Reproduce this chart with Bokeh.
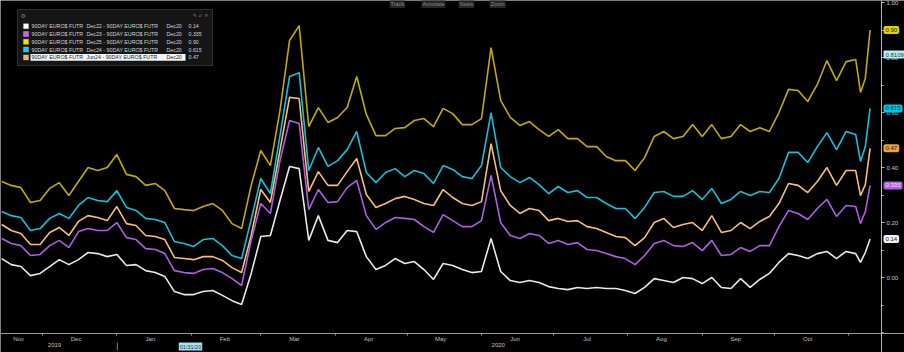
from datetime import datetime
import pandas as pd
from bokeh.plotting import figure
from bokeh.models import (Range1d, LinearAxis, FixedTicker, DatetimeTickFormatter,
                          PrintfTickFormatter, ColumnDataSource, Label, BoxAnnotation)
from bokeh.embed import file_html
from bokeh.resources import INLINE

# ---------------- data ----------------
dates = list(pd.date_range("2019-11-14", periods=90, freq="4D")) + \
        list(pd.to_datetime(["2020-11-06", "2020-11-08", "2020-11-10"]))

names = ["Dec22", "Dec23", "Dec25", "Dec24", "Jun24"]

dec22 = [0.069, 0.047, 0.040, 0.007, 0.015, 0.040, 0.065, 0.047, 0.065, 0.091,
         0.087, 0.076, 0.084, 0.044, 0.047, 0.025, 0.018, 0.004, -0.051, -0.062,
         -0.062, -0.051, -0.047, -0.065, -0.084, -0.098, 0.015, 0.149, 0.153, 0.280,
         0.404, 0.396, 0.135, 0.225, 0.135, 0.127, 0.171, 0.167, 0.076, 0.029,
         0.044, 0.069, 0.051, 0.058, 0.029, -0.007, 0.051, 0.044, 0.029, 0.018,
         0.022, 0.142, 0.022, -0.011, -0.018, -0.011, -0.018, -0.033, -0.040, -0.044,
         -0.036, -0.040, -0.036, -0.040, -0.040, -0.047, -0.058, -0.036, -0.004, -0.011,
         -0.018, 0.000, -0.004, -0.022, 0.000, -0.036, -0.040, -0.004, -0.036, -0.007,
         0.015, 0.055, 0.087, 0.080, 0.069, 0.087, 0.095, 0.069, 0.095, 0.087,
         0.055, 0.091, 0.140]

dec23 = [0.142, 0.124, 0.116, 0.080, 0.084, 0.116, 0.135, 0.109, 0.167, 0.178,
         0.171, 0.171, 0.200, 0.145, 0.138, 0.105, 0.102, 0.087, 0.025, 0.018,
         0.015, 0.029, 0.033, 0.018, -0.004, -0.029, 0.135, 0.269, 0.233, 0.425,
         0.571, 0.560, 0.247, 0.320, 0.273, 0.276, 0.327, 0.353, 0.225, 0.175,
         0.200, 0.218, 0.215, 0.211, 0.185, 0.164, 0.229, 0.207, 0.185, 0.185,
         0.207, 0.371, 0.200, 0.153, 0.142, 0.160, 0.153, 0.124, 0.135, 0.120,
         0.127, 0.102, 0.098, 0.087, 0.076, 0.069, 0.047, 0.080, 0.124, 0.135,
         0.116, 0.113, 0.127, 0.098, 0.135, 0.080, 0.084, 0.109, 0.095, 0.116,
         0.116, 0.185, 0.244, 0.233, 0.211, 0.251, 0.284, 0.222, 0.262, 0.258,
         0.196, 0.240, 0.335]

dec25 = [0.349, 0.335, 0.327, 0.273, 0.280, 0.324, 0.345, 0.298, 0.349, 0.400,
         0.389, 0.400, 0.447, 0.375, 0.367, 0.335, 0.342, 0.316, 0.251, 0.247,
         0.244, 0.258, 0.269, 0.244, 0.196, 0.178, 0.335, 0.462, 0.407, 0.607,
         0.862, 0.916, 0.549, 0.618, 0.564, 0.582, 0.618, 0.731, 0.593, 0.516,
         0.516, 0.542, 0.545, 0.571, 0.578, 0.549, 0.615, 0.596, 0.556, 0.556,
         0.578, 0.836, 0.644, 0.582, 0.553, 0.567, 0.538, 0.513, 0.538, 0.505,
         0.505, 0.476, 0.476, 0.440, 0.425, 0.425, 0.389, 0.436, 0.513, 0.531,
         0.505, 0.513, 0.556, 0.513, 0.556, 0.505, 0.513, 0.556, 0.531, 0.545,
         0.531, 0.600, 0.684, 0.680, 0.640, 0.702, 0.789, 0.716, 0.785, 0.793,
         0.673, 0.724, 0.900]

dec24 = [0.240, 0.225, 0.218, 0.171, 0.178, 0.215, 0.233, 0.215, 0.262, 0.291,
         0.280, 0.276, 0.316, 0.255, 0.244, 0.215, 0.211, 0.200, 0.131, 0.124,
         0.113, 0.138, 0.142, 0.116, 0.080, 0.069, 0.211, 0.360, 0.305, 0.516,
         0.731, 0.745, 0.389, 0.473, 0.404, 0.425, 0.465, 0.531, 0.382, 0.345,
         0.382, 0.396, 0.367, 0.389, 0.378, 0.342, 0.407, 0.393, 0.367, 0.360,
         0.407, 0.600, 0.400, 0.367, 0.345, 0.364, 0.338, 0.305, 0.331, 0.309,
         0.316, 0.291, 0.291, 0.269, 0.251, 0.251, 0.215, 0.255, 0.309, 0.313,
         0.295, 0.295, 0.316, 0.284, 0.324, 0.269, 0.284, 0.313, 0.298, 0.313,
         0.309, 0.360, 0.455, 0.455, 0.418, 0.476, 0.527, 0.465, 0.531, 0.520,
         0.422, 0.476, 0.615]

jun24 = [0.193, 0.171, 0.160, 0.120, 0.120, 0.164, 0.182, 0.153, 0.204, 0.225,
         0.218, 0.207, 0.258, 0.196, 0.189, 0.153, 0.149, 0.138, 0.073, 0.069,
         0.065, 0.076, 0.076, 0.062, 0.036, 0.018, 0.153, 0.320, 0.273, 0.462,
         0.655, 0.651, 0.313, 0.385, 0.335, 0.335, 0.385, 0.433, 0.302, 0.255,
         0.269, 0.287, 0.295, 0.284, 0.269, 0.262, 0.320, 0.291, 0.269, 0.262,
         0.276, 0.487, 0.316, 0.262, 0.233, 0.251, 0.244, 0.207, 0.215, 0.204,
         0.207, 0.185, 0.178, 0.164, 0.149, 0.145, 0.116, 0.145, 0.200, 0.215,
         0.182, 0.193, 0.200, 0.171, 0.225, 0.164, 0.171, 0.200, 0.178, 0.204,
         0.222, 0.269, 0.342, 0.335, 0.309, 0.349, 0.400, 0.335, 0.389, 0.389,
         0.298, 0.338, 0.470]

values = [dec22, dec23, dec25, dec24, jun24]

y_major = [0.0, 0.2, 0.4, 0.6, 0.8, 1.0]
y_minor = [-0.2, -0.1, 0.1, 0.3, 0.5, 0.7, 0.9]
month_label_dates = [datetime(2019, 11, 21)] + [datetime(2019, 12, 15)] + \
                    [datetime(2020, m, 15) for m in range(1, 11)]
month_start_dates = [datetime(2019, 12, 1)] + [datetime(2020, m, 1) for m in range(1, 12)]
year_label_dates = [datetime(2019, 12, 6), datetime(2020, 6, 8)]
year_sep_date = datetime(2020, 1, 1)
crosshair_value = "0.8109"
crosshair_date = "01/31/20"
toolbar_items = ["Track", "Annotate", "News", "Zoom"]

# ---------------- styles / geometry ----------------
line_colors = ["#e8e8e8", "#ad5fe2", "#c2ac00", "#10c2dc", "#f8bf72"]
swatch_colors = ["#ffffff", "#c45ef5", "#f0e400", "#00d2f0", "#f5b266"]
tag_bg = ["#f2f2f2", "#b05ee0", "#e6d000", "#00c6e4", "#f2a03c"]
tag_fg = ["#1a1a1a", "#f4e8ff", "#1a1a00", "#062a3a", "#2a1600"]
FONT = "Liberation Sans"
W, H = 904, 352
PLOT_W, PLOT_H = 881, 333            # area of the chart inside the canvas

x_start = datetime(2019, 11, 13, 12)
x_axis_end = datetime(2020, 11, 14, 18)
x_end = x_axis_end + (x_axis_end - x_start) * (W - PLOT_W) / PLOT_W
y_top = 1.0073
y_axis_bottom = -0.2035
y_per_px = (y_top - y_axis_bottom) / PLOT_H
y_min = y_axis_bottom - (H - PLOT_H) * y_per_px


def ms(d):
    return float(pd.Timestamp(d).value // 10**6)


def sy(cy):
    return H - cy


def fmt(v):
    s = f"{v:.3f}"
    return s[:-1] if s.endswith("0") else s


def screen_box(left, right, top, bottom, **kw):
    return BoxAnnotation(left=left, right=right, top=sy(top), bottom=sy(bottom),
                         left_units="screen", right_units="screen",
                         top_units="screen", bottom_units="screen", **kw)


p = figure(width=W, height=H, x_axis_type=None, y_axis_type=None,
           x_range=Range1d(x_start, x_end), y_range=Range1d(y_min, y_top),
           output_backend="svg", toolbar_location=None,
           background_fill_color="black", border_fill_color="black",
           outline_line_color=None, min_border=0)

src = ColumnDataSource(dict(date=dates, **{n: v for n, v in zip(names, values)}))
for i in [2, 3, 4, 1, 0]:
    p.line("date", names[i], source=src, line_color=line_colors[i], line_width=1.6)

# right value axis (fixed at the right edge of the chart area)
yax = LinearAxis(ticker=FixedTicker(ticks=y_major, minor_ticks=y_minor),
                 formatter=PrintfTickFormatter(format="%.2f"),
                 fixed_location=ms(x_axis_end))
yax.axis_line_color = "#b4b4b4"
yax.major_tick_line_color = "#b4b4b4"
yax.minor_tick_line_color = "#b4b4b4"
yax.major_tick_out = 3
yax.major_tick_in = 0
yax.minor_tick_out = 2
yax.minor_tick_in = 0
yax.major_label_standoff = 2
yax.major_label_text_font_size = "6px"
yax.major_label_text_color = "#c8c8c8"
yax.major_label_text_font = FONT
p.add_layout(yax, "right")

# month axis
fmt_b = DatetimeTickFormatter(days="%b", months="%b", years="%b", hours="%b")
xax1 = LinearAxis(ticker=FixedTicker(ticks=[ms(d) for d in month_label_dates],
                                     minor_ticks=[ms(d) for d in month_start_dates]),
                  formatter=fmt_b, fixed_location=y_axis_bottom)
xax1.axis_line_color = "#9a9a9a"
xax1.major_tick_line_color = None
xax1.major_tick_out = 0
xax1.major_tick_in = 0
xax1.minor_tick_line_color = "#9a9a9a"
xax1.minor_tick_out = 2
xax1.minor_tick_in = 0
xax1.major_label_standoff = 0
xax1.major_label_text_font_size = "6px"
xax1.major_label_text_color = "#c0c0c0"
xax1.major_label_text_font = FONT
p.add_layout(xax1, "below")

# year axis
fmt_y = DatetimeTickFormatter(days="%Y", months="%Y", years="%Y", hours="%Y")
xax2 = LinearAxis(ticker=FixedTicker(ticks=[ms(d) for d in year_label_dates]),
                  formatter=fmt_y, fixed_location=y_axis_bottom - 9.5 * y_per_px)
xax2.axis_line_color = None
xax2.major_tick_line_color = None
xax2.minor_tick_line_color = None
xax2.major_tick_out = 0
xax2.major_tick_in = 0
xax2.minor_tick_out = 0
xax2.minor_tick_in = 0
xax2.major_label_standoff = 0
xax2.major_label_text_font_size = "6px"
xax2.major_label_text_color = "#c0c0c0"
xax2.major_label_text_font = FONT
p.add_layout(xax2, "below")

# year separator on the year row
p.add_layout(BoxAnnotation(left=ms(year_sep_date), right=ms(year_sep_date) + 3.6e7,
                           top=y_axis_bottom - 9 * y_per_px,
                           bottom=y_axis_bottom - 17 * y_per_px,
                           fill_color="#808080", fill_alpha=1, line_color=None))

# ---------------- legend box ----------------
p.add_layout(screen_box(17, 212, 9, 65, fill_color="#151515", fill_alpha=1,
                        line_color="#303030", line_alpha=1, line_width=1))
p.add_layout(Label(x=20, y=sy(14.5), x_units="screen", y_units="screen", text="⚙",
                   text_font="DejaVu Sans", text_font_size="6px", text_color="#7a7a7a",
                   text_baseline="middle"))
p.add_layout(Label(x=208, y=sy(14.5), x_units="screen", y_units="screen", text="✎ ↙ ✕",
                   text_font="DejaVu Sans", text_font_size="5px", text_color="#7a7a7a",
                   text_baseline="middle", text_align="right"))

row_y = [25.7, 33.5, 41.3, 49.1, 56.9]
for r, name in enumerate(names):
    cy = row_y[r]
    p.add_layout(screen_box(23, 28, cy - 2.5, cy + 2.5, fill_color=swatch_colors[r],
                            fill_alpha=1, line_color="#e0e0e0", line_alpha=0.6,
                            line_width=0.5))
    selected = (r == len(names) - 1)
    if selected:
        p.add_layout(screen_box(30, 185, cy - 3.4, cy + 3.4, fill_color="#f4f4f4",
                                fill_alpha=1, line_color=None))
    tc = "#1c1c1c" if selected else "#d4d4d4"
    for x, t, c in [(31, "90DAY EURO$ FUTR", tc),
                    (86, f"{name} - 90DAY EURO$ FUTR", tc),
                    (166, "Dec20", tc),
                    (188, fmt(values[r][-1]), "#d4d4d4")]:
        p.add_layout(Label(x=x, y=sy(cy), x_units="screen", y_units="screen", text=t,
                           text_font=FONT, text_font_size="5.3px", text_color=c,
                           text_baseline="middle"))

# ---------------- right-side value tags ----------------
tag_x = PLOT_W + 2
for r in range(len(names)):
    p.add_layout(Label(x=tag_x, y=values[r][-1], x_units="screen", y_units="data",
                       text=fmt(values[r][-1]), text_font=FONT, text_font_size="6px",
                       text_color=tag_fg[r], text_baseline="middle", text_align="left",
                       background_fill_color=tag_bg[r], background_fill_alpha=1,
                       padding=2, border_radius=2))
p.add_layout(Label(x=tag_x, y=float(crosshair_value), x_units="screen", y_units="data",
                   text=crosshair_value, text_font=FONT, text_font_size="6px",
                   text_color="#2a3a40", text_baseline="middle", text_align="left",
                   background_fill_color="#b8eef2", background_fill_alpha=1,
                   padding=2, border_radius=1))

# crosshair date on the time axis
p.add_layout(Label(x=190, y=sy(346), x_units="screen", y_units="screen",
                   text=crosshair_date, text_font=FONT, text_font_size="5.5px",
                   text_color="#203040", text_baseline="middle", text_align="center",
                   background_fill_color="#a8e4ec", background_fill_alpha=1, padding=1))

# toolbar strip at the top
for x, t in zip([389, 421, 458, 489], toolbar_items):
    p.add_layout(Label(x=x, y=sy(3.5), x_units="screen", y_units="screen", text=t,
                       text_font=FONT, text_font_size="5.5px", text_color="#8c8c8c",
                       text_baseline="middle", background_fill_color="#262626",
                       background_fill_alpha=1, padding=1))

open("out.html", "w").write(file_html(p, INLINE))
